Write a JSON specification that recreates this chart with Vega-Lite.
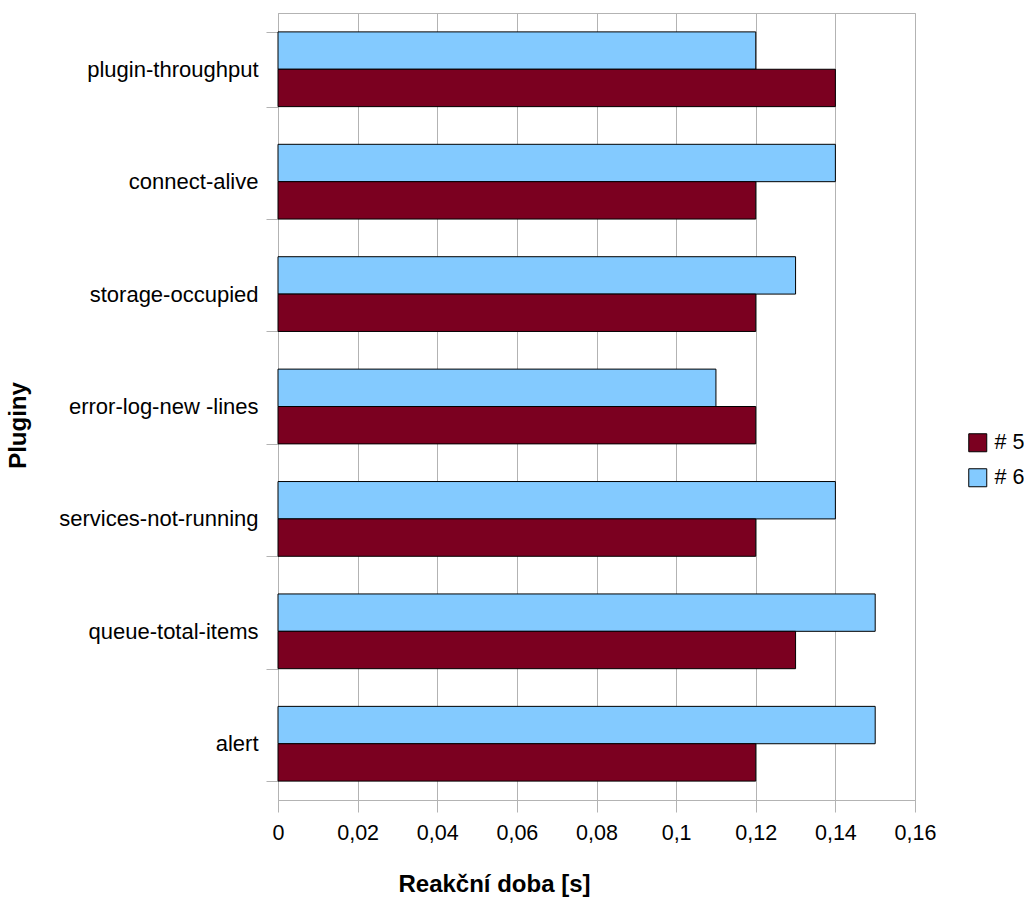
{
  "$schema": "https://vega.github.io/schema/vega-lite/v6.json",
  "autosize": {"type": "none"},
  "padding": {"left": 278, "top": 13, "right": 109, "bottom": 100},
  "width": 637,
  "height": 787,
  "background": "white",
  "config": {
    "locale": {
      "number": {"decimal": ",", "thousands": " ", "grouping": [3], "currency": ["", " Kč"]}
    },
    "font": "Liberation Sans",
    "view": {"stroke": "#b3b3b3", "strokeWidth": 1}
  },
  "data": {
    "values": [
      {"plugin": "plugin-throughput", "series": "# 6", "time": 0.12},
      {"plugin": "plugin-throughput", "series": "# 5", "time": 0.14},
      {"plugin": "connect-alive", "series": "# 6", "time": 0.14},
      {"plugin": "connect-alive", "series": "# 5", "time": 0.12},
      {"plugin": "storage-occupied", "series": "# 6", "time": 0.13},
      {"plugin": "storage-occupied", "series": "# 5", "time": 0.12},
      {"plugin": "error-log-new -lines", "series": "# 6", "time": 0.11},
      {"plugin": "error-log-new -lines", "series": "# 5", "time": 0.12},
      {"plugin": "services-not-running", "series": "# 6", "time": 0.14},
      {"plugin": "services-not-running", "series": "# 5", "time": 0.12},
      {"plugin": "queue-total-items", "series": "# 6", "time": 0.15},
      {"plugin": "queue-total-items", "series": "# 5", "time": 0.13},
      {"plugin": "alert", "series": "# 6", "time": 0.15},
      {"plugin": "alert", "series": "# 5", "time": 0.12}
    ]
  },
  "mark": {"type": "bar", "stroke": "black", "strokeWidth": 1},
  "encoding": {
    "y": {
      "field": "plugin",
      "type": "nominal",
      "sort": null,
      "scale": {"paddingInner": 0.335, "paddingOuter": 0.168},
      "axis": {
        "title": "Pluginy",
        "titleFontSize": 24,
        "titleFontWeight": "bold",
        "titleColor": "black",
        "titleX": -260,
        "titleY": 412,
        "titleAlign": "center",
        "titleBaseline": "middle",
        "titleAngle": 270,
        "labelFontSize": 22,
        "labelColor": "black",
        "labelPadding": 8,
        "labelLimit": 0,
        "domainColor": "#b3b3b3",
        "tickColor": "#b3b3b3",
        "tickSize": 12,
        "tickBand": "extent",
        "grid": false
      }
    },
    "yOffset": {
      "field": "series",
      "type": "nominal",
      "sort": ["# 6", "# 5"]
    },
    "x": {
      "field": "time",
      "type": "quantitative",
      "scale": {"domain": [0, 0.16], "nice": false},
      "axis": {
        "title": "Reakční doba [s]",
        "titleFontSize": 24,
        "titleFontWeight": "bold",
        "titleColor": "black",
        "titleX": 216,
        "titleY": 84,
        "titleAlign": "center",
        "titleBaseline": "middle",
        "values": [0, 0.02, 0.04, 0.06, 0.08, 0.1, 0.12, 0.14, 0.16],
        "format": ".2~f",
        "labelFontSize": 21.5,
        "labelColor": "black",
        "labelPadding": 10,
        "labelFlush": false,
        "domainColor": "#b3b3b3",
        "tickColor": "#b3b3b3",
        "tickSize": 12,
        "gridColor": "#b3b3b3",
        "gridOpacity": 1
      }
    },
    "color": {
      "field": "series",
      "type": "nominal",
      "scale": {"domain": ["# 5", "# 6"], "range": ["#7b0020", "#83caff"]},
      "legend": {
        "title": null,
        "orient": "none",
        "legendX": 689,
        "legendY": 419,
        "padding": 0,
        "symbolType": "square",
        "symbolSize": 324,
        "symbolStrokeColor": "black",
        "symbolStrokeWidth": 1,
        "labelFontSize": 21.5,
        "labelColor": "black",
        "labelOffset": 6,
        "rowPadding": 12
      }
    }
  }
}
